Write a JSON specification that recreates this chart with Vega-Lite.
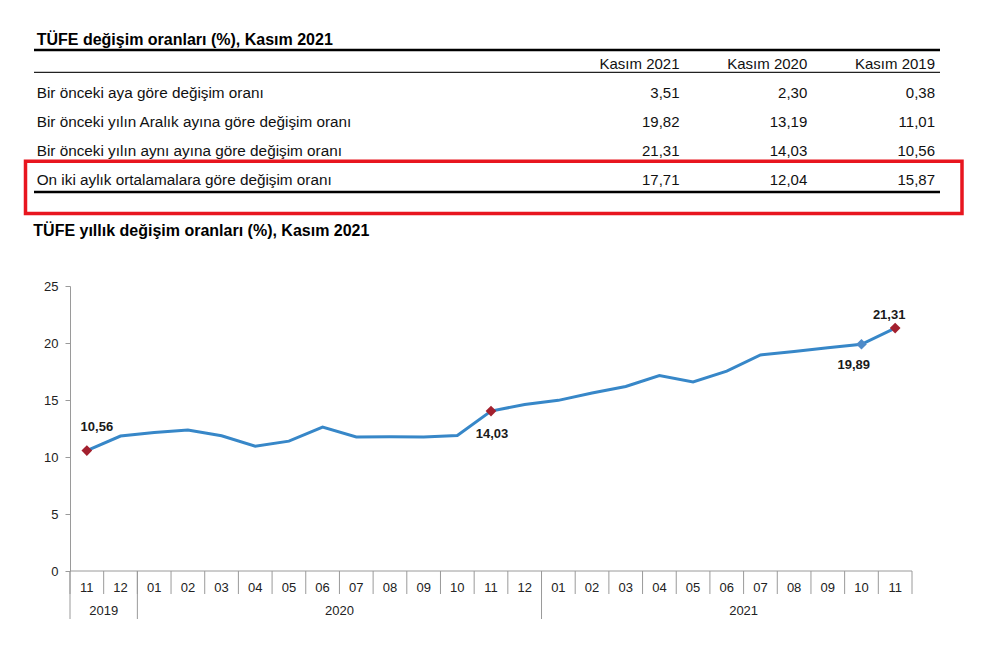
{
  "$schema": "https://vega.github.io/schema/vega-lite/v6.json",
  "width": 842,
  "height": 285,
  "autosize": {"type": "none"},
  "padding": {"left": 70, "top": 286, "right": 87, "bottom": 78},
  "background": "white",
  "config": {
    "font": "Liberation Sans",
    "view": {"stroke": null}
  },
  "datasets": {
    "seri": [
      {"donem": "2019-11", "yil": "2019", "ay": "11", "oran": 10.56},
      {"donem": "2019-12", "yil": "2019", "ay": "12", "oran": 11.84},
      {"donem": "2020-01", "yil": "2020", "ay": "01", "oran": 12.15},
      {"donem": "2020-02", "yil": "2020", "ay": "02", "oran": 12.37},
      {"donem": "2020-03", "yil": "2020", "ay": "03", "oran": 11.86},
      {"donem": "2020-04", "yil": "2020", "ay": "04", "oran": 10.94},
      {"donem": "2020-05", "yil": "2020", "ay": "05", "oran": 11.39},
      {"donem": "2020-06", "yil": "2020", "ay": "06", "oran": 12.62},
      {"donem": "2020-07", "yil": "2020", "ay": "07", "oran": 11.76},
      {"donem": "2020-08", "yil": "2020", "ay": "08", "oran": 11.77},
      {"donem": "2020-09", "yil": "2020", "ay": "09", "oran": 11.75},
      {"donem": "2020-10", "yil": "2020", "ay": "10", "oran": 11.89},
      {"donem": "2020-11", "yil": "2020", "ay": "11", "oran": 14.03},
      {"donem": "2020-12", "yil": "2020", "ay": "12", "oran": 14.60},
      {"donem": "2021-01", "yil": "2021", "ay": "01", "oran": 14.97},
      {"donem": "2021-02", "yil": "2021", "ay": "02", "oran": 15.61},
      {"donem": "2021-03", "yil": "2021", "ay": "03", "oran": 16.19},
      {"donem": "2021-04", "yil": "2021", "ay": "04", "oran": 17.14},
      {"donem": "2021-05", "yil": "2021", "ay": "05", "oran": 16.59},
      {"donem": "2021-06", "yil": "2021", "ay": "06", "oran": 17.53},
      {"donem": "2021-07", "yil": "2021", "ay": "07", "oran": 18.95},
      {"donem": "2021-08", "yil": "2021", "ay": "08", "oran": 19.25},
      {"donem": "2021-09", "yil": "2021", "ay": "09", "oran": 19.58},
      {"donem": "2021-10", "yil": "2021", "ay": "10", "oran": 19.89},
      {"donem": "2021-11", "yil": "2021", "ay": "11", "oran": 21.31}
    ],
    "tablo": [
      {"satir": "Bir önceki aya göre değişim oranı", "kolon": "Kasım 2021", "deger": 3.51},
      {"satir": "Bir önceki aya göre değişim oranı", "kolon": "Kasım 2020", "deger": 2.30},
      {"satir": "Bir önceki aya göre değişim oranı", "kolon": "Kasım 2019", "deger": 0.38},
      {"satir": "Bir önceki yılın Aralık ayına göre değişim oranı", "kolon": "Kasım 2021", "deger": 19.82},
      {"satir": "Bir önceki yılın Aralık ayına göre değişim oranı", "kolon": "Kasım 2020", "deger": 13.19},
      {"satir": "Bir önceki yılın Aralık ayına göre değişim oranı", "kolon": "Kasım 2019", "deger": 11.01},
      {"satir": "Bir önceki yılın aynı ayına göre değişim oranı", "kolon": "Kasım 2021", "deger": 21.31},
      {"satir": "Bir önceki yılın aynı ayına göre değişim oranı", "kolon": "Kasım 2020", "deger": 14.03},
      {"satir": "Bir önceki yılın aynı ayına göre değişim oranı", "kolon": "Kasım 2019", "deger": 10.56},
      {"satir": "On iki aylık ortalamalara göre değişim oranı", "kolon": "Kasım 2021", "deger": 17.71},
      {"satir": "On iki aylık ortalamalara göre değişim oranı", "kolon": "Kasım 2020", "deger": 12.04},
      {"satir": "On iki aylık ortalamalara göre değişim oranı", "kolon": "Kasım 2019", "deger": 15.87}
    ],
    "basliklar": [
      {"tur": "tablo", "metin": "TÜFE değişim oranları (%), Kasım 2021"},
      {"tur": "grafik", "metin": "TÜFE yıllık değişim oranları (%), Kasım 2021"}
    ]
  },
  "layer": [
    {
      "data": {"name": "seri"},
      "transform": [{"calculate": "replace(format(datum.oran, '.2f'), '.', ',')", "as": "etiket"}],
      "encoding": {
        "x": {
          "field": "donem",
          "type": "ordinal",
          "scale": {"type": "band", "paddingInner": 0, "paddingOuter": 0},
          "axis": null
        },
        "y": {
          "field": "oran",
          "type": "quantitative",
          "scale": {"domain": [0, 25], "nice": false},
          "axis": {
            "title": null,
            "values": [0, 5, 10, 15, 20, 25],
            "tickSize": 5,
            "labelPadding": 7,
            "labelFontSize": 13,
            "labelColor": "#222222",
            "domainColor": "#9a9a9a",
            "tickColor": "#9a9a9a",
            "grid": false
          }
        }
      },
      "layer": [
        {
          "mark": {"type": "rule", "color": "#9a9a9a", "strokeWidth": 1, "y2Offset": 23},
          "encoding": {
            "x": {"field": "donem", "type": "ordinal", "bandPosition": 0},
            "y": {"datum": 0},
            "y2": {"datum": 0}
          }
        },
        {
          "transform": [{"filter": "datum.donem == '2021-11'"}],
          "mark": {"type": "rule", "color": "#9a9a9a", "strokeWidth": 1, "y2Offset": 23},
          "encoding": {
            "x": {"field": "donem", "type": "ordinal", "bandPosition": 1},
            "y": {"datum": 0},
            "y2": {"datum": 0}
          }
        },
        {
          "transform": [{"filter": "datum.donem == '2019-11' || datum.ay == '01'"}],
          "mark": {"type": "rule", "color": "#9a9a9a", "strokeWidth": 1, "y2Offset": 48},
          "encoding": {
            "x": {"field": "donem", "type": "ordinal", "bandPosition": 0},
            "y": {"datum": 0},
            "y2": {"datum": 0}
          }
        },
        {
          "transform": [{"filter": "datum.donem == '2019-11'"}],
          "mark": {"type": "rule", "color": "#9a9a9a", "strokeWidth": 1},
          "encoding": {
            "x": {"field": "donem", "type": "ordinal", "bandPosition": 0},
            "x2": {"datum": "2021-11", "bandPosition": 1},
            "y": {"datum": 0}
          }
        },
        {
          "mark": {"type": "text", "fontSize": 13, "color": "#222222", "align": "center", "baseline": "middle", "dy": 16.5},
          "encoding": {"y": {"datum": 0}, "text": {"field": "ay"}}
        },
        {
          "transform": [{"filter": "datum.donem == '2019-12' || datum.donem == '2020-07' || datum.donem == '2021-07'"}],
          "mark": {"type": "text", "fontSize": 13, "color": "#222222", "align": "center", "baseline": "middle", "dy": 40},
          "encoding": {
            "x": {"field": "donem", "type": "ordinal", "bandPosition": 0},
            "y": {"datum": 0},
            "text": {"field": "yil"}
          }
        },
        {
          "mark": {"type": "line", "color": "#3787C8", "strokeWidth": 3}
        },
        {
          "transform": [{"filter": "datum.donem == '2019-11' || datum.donem == '2020-11' || datum.donem == '2021-11'"}],
          "mark": {"type": "point", "shape": "diamond", "filled": true, "size": 115, "color": "#A3202E", "opacity": 1}
        },
        {
          "transform": [{"filter": "datum.donem == '2021-10'"}],
          "mark": {"type": "point", "shape": "diamond", "filled": true, "size": 115, "color": "#4F8BC9", "opacity": 1}
        },
        {
          "transform": [{"filter": "datum.donem == '2019-11'"}],
          "mark": {"type": "text", "fontSize": 13, "fontWeight": "bold", "color": "#1a1a1a", "align": "center", "baseline": "middle", "dx": 10, "dy": -23.5},
          "encoding": {"text": {"field": "etiket"}}
        },
        {
          "transform": [{"filter": "datum.donem == '2020-11'"}],
          "mark": {"type": "text", "fontSize": 13, "fontWeight": "bold", "color": "#1a1a1a", "align": "center", "baseline": "middle", "dx": 1, "dy": 22.5},
          "encoding": {"text": {"field": "etiket"}}
        },
        {
          "transform": [{"filter": "datum.donem == '2021-10'"}],
          "mark": {"type": "text", "fontSize": 13, "fontWeight": "bold", "color": "#1a1a1a", "align": "center", "baseline": "middle", "dx": -7.7, "dy": 21.2},
          "encoding": {"text": {"field": "etiket"}}
        },
        {
          "transform": [{"filter": "datum.donem == '2021-11'"}],
          "mark": {"type": "text", "fontSize": 13, "fontWeight": "bold", "color": "#1a1a1a", "align": "center", "baseline": "middle", "dx": -6, "dy": -12.7},
          "encoding": {"text": {"field": "etiket"}}
        }
      ]
    },
    {
      "data": {"name": "tablo"},
      "transform": [{"calculate": "replace(format(datum.deger, '.2f'), '.', ',')", "as": "etiket"}],
      "encoding": {
        "x": {
          "field": "kolon",
          "type": "nominal",
          "scale": {"type": "point", "domain": ["Kasım 2021", "Kasım 2020", "Kasım 2019"], "range": [609.5, 865], "padding": 0},
          "axis": null
        },
        "y": {
          "field": "satir",
          "type": "nominal",
          "scale": {
            "type": "point",
            "domain": ["başlık", "Bir önceki aya göre değişim oranı", "Bir önceki yılın Aralık ayına göre değişim oranı", "Bir önceki yılın aynı ayına göre değişim oranı", "On iki aylık ortalamalara göre değişim oranı"],
            "range": [-222.3, -105.9],
            "padding": 0
          },
          "axis": null
        }
      },
      "layer": [
        {
          "mark": {"type": "text", "fontSize": 15, "color": "#111111", "align": "right", "baseline": "middle"},
          "encoding": {"text": {"field": "etiket"}}
        },
        {
          "transform": [{"filter": "datum.satir == 'Bir önceki aya göre değişim oranı'"}],
          "mark": {"type": "text", "fontSize": 15, "color": "#111111", "align": "right", "baseline": "middle"},
          "encoding": {"y": {"datum": "başlık", "type": "nominal"}, "text": {"field": "kolon"}}
        },
        {
          "transform": [{"filter": "datum.kolon == 'Kasım 2021'"}],
          "mark": {"type": "text", "fontSize": 15.3, "color": "#111111", "align": "left", "baseline": "middle", "dx": -642.8},
          "encoding": {"text": {"field": "satir"}}
        },
        {
          "data": {"name": "basliklar"},
          "transform": [{"filter": "datum.tur == 'tablo'"}],
          "mark": {"type": "text", "fontSize": 16, "fontWeight": "bold", "color": "#000000", "align": "left", "baseline": "middle", "dx": -642.8, "dy": -23.7},
          "encoding": {
            "x": {"datum": "Kasım 2021", "type": "nominal"},
            "y": {"datum": "başlık", "type": "nominal"},
            "text": {"field": "metin"}
          }
        },
        {
          "data": {"name": "basliklar"},
          "transform": [{"filter": "datum.tur == 'grafik'"}],
          "mark": {"type": "text", "fontSize": 16, "fontWeight": "bold", "color": "#000000", "align": "left", "baseline": "middle", "dx": -646.2, "dy": 50.5},
          "encoding": {
            "x": {"datum": "Kasım 2021", "type": "nominal"},
            "y": {"datum": "On iki aylık ortalamalara göre değişim oranı", "type": "nominal"},
            "text": {"field": "metin"}
          }
        },
        {
          "data": {"values": [{"cizgi": "üst"}]},
          "mark": {"type": "rule", "color": "#000000", "strokeWidth": 2.5, "xOffset": -645.5, "x2Offset": 5, "yOffset": -13.7},
          "encoding": {
            "x": {"datum": "Kasım 2021", "type": "nominal"},
            "x2": {"datum": "Kasım 2019"},
            "y": {"datum": "başlık", "type": "nominal"}
          }
        },
        {
          "data": {"values": [{"cizgi": "orta"}]},
          "mark": {"type": "rule", "color": "#222222", "strokeWidth": 1.2, "xOffset": -645.5, "x2Offset": 5, "yOffset": 8.6},
          "encoding": {
            "x": {"datum": "Kasım 2021", "type": "nominal"},
            "x2": {"datum": "Kasım 2019"},
            "y": {"datum": "başlık", "type": "nominal"}
          }
        },
        {
          "data": {"values": [{"cizgi": "alt"}]},
          "mark": {"type": "rule", "color": "#000000", "strokeWidth": 2.5, "xOffset": -645.5, "x2Offset": 5, "yOffset": 11.9},
          "encoding": {
            "x": {"datum": "Kasım 2021", "type": "nominal"},
            "x2": {"datum": "Kasım 2019"},
            "y": {"datum": "On iki aylık ortalamalara göre değişim oranı", "type": "nominal"}
          }
        },
        {
          "data": {"values": [{"vurgu": "On iki aylık ortalamalara göre değişim oranı"}]},
          "mark": {"type": "rect", "filled": false, "stroke": "#E8161F", "strokeWidth": 3.5, "xOffset": -654, "x2Offset": 27, "yOffset": -18.9, "y2Offset": 33.4},
          "encoding": {
            "x": {"datum": "Kasım 2021", "type": "nominal"},
            "x2": {"datum": "Kasım 2019"},
            "y": {"field": "vurgu", "type": "nominal"},
            "y2": {"field": "vurgu"}
          }
        }
      ]
    }
  ],
  "resolve": {
    "scale": {"x": "independent", "y": "independent"},
    "axis": {"x": "independent", "y": "independent"}
  }
}
